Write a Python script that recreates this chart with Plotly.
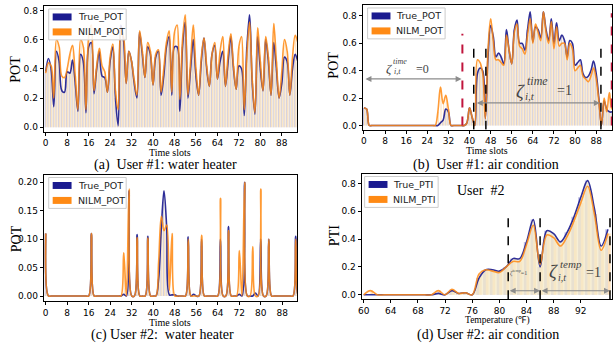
import plotly.graph_objects as go

W, H = 613, 346
def px(x): return x / W
def py(y): return 1 - y / H

# ---------------- data ----------------
slots = list(range(96))
temps = list(range(60, 97))

a_true = [0.38, 0.47, 0.40, 0.14, 0.52, 0.45, 0.25, 0.24,
          0.38, 0.37, 0.46, 0.30, 0.11, 0.50, 0.45, 0.10,
          0.55, 0.58, 0.23, 0.40, 0.52, 0.35, 0.34, 0.24,
          0.45, 0.55, 0.20, 0.01, 0.70, 0.60, 0.30, 0.52,
          0.45, 0.30, 0.20, 0.65, 0.50, 0.34, 0.55, 0.50,
          0.29, 0.48, 0.52, 0.22, 0.35, 0.55, 0.62, 0.22,
          0.55, 0.55, 0.11, 0.55, 0.72, 0.20, 0.40, 0.60,
          0.35, 0.22, 0.45, 0.61, 0.40, 0.28, 0.50, 0.56,
          0.33, 0.45, 0.52, 0.28, 0.45, 0.62, 0.40, 0.26,
          0.42, 0.40, 0.08, 0.55, 0.77, 0.30, 0.09, 0.62,
          0.40, 0.25, 0.60, 0.45, 0.22, 0.58, 0.40, 0.20,
          0.30, 0.48, 0.45, 0.22, 0.40, 0.50, 0.45, 0.40]
a_nilm = [0.37, 0.44, 0.42, 0.20, 0.60, 0.55, 0.35, 0.34,
          0.40, 0.50, 0.56, 0.35, 0.12, 0.60, 0.55, 0.12,
          0.62, 0.70, 0.25, 0.42, 0.54, 0.42, 0.38, 0.24,
          0.48, 0.57, 0.25, 0.12, 0.66, 0.62, 0.30, 0.52,
          0.45, 0.32, 0.22, 0.66, 0.52, 0.34, 0.58, 0.52,
          0.29, 0.50, 0.53, 0.24, 0.40, 0.58, 0.66, 0.24,
          0.65, 0.70, 0.19, 0.60, 0.77, 0.22, 0.45, 0.70,
          0.40, 0.22, 0.48, 0.61, 0.42, 0.28, 0.50, 0.58,
          0.33, 0.52, 0.62, 0.28, 0.50, 0.64, 0.42, 0.26,
          0.55, 0.62, 0.12, 0.50, 0.72, 0.32, 0.10, 0.68,
          0.45, 0.25, 0.62, 0.48, 0.22, 0.71, 0.45, 0.20,
          0.38, 0.60, 0.52, 0.22, 0.48, 0.63, 0.58, 0.50]

b_true = [0.13, 0.12, 0.0, 0.0, 0.0, 0.0, 0.0, 0.0,
          0.0, 0.0, 0.0, 0.0, 0.0, 0.0, 0.0, 0.0,
          0.0, 0.0, 0.0, 0.0, 0.0, 0.0, 0.0, 0.0,
          0.0, 0.0, 0.0, 0.0, 0.0, 0.02, 0.04, 0.12,
          0.10, 0.0, 0.0, 0.0, 0.0, 0.0, 0.0, 0.02,
          0.13, 0.06, 0.0, 0.38, 0.42, 0.40, 0.05, 0.50,
          0.73, 0.65, 0.50, 0.53, 0.50, 0.45, 0.70, 0.55,
          0.45, 0.70, 0.77, 0.60, 0.60, 0.55, 0.70, 0.83,
          0.61, 0.72, 0.70, 0.64, 0.83, 0.70, 0.62, 0.78,
          0.60, 0.75, 0.62, 0.66, 0.62, 0.50, 0.62, 0.60,
          0.44, 0.46, 0.48, 0.38, 0.35, 0.36, 0.40, 0.47,
          0.38, 0.20, 0.0, 0.18, 0.12, 0.10, 0.10, 0.12]
b_nilm = [0.13, 0.12, 0.0, 0.0, 0.0, 0.0, 0.0, 0.0,
          0.0, 0.0, 0.0, 0.0, 0.0, 0.0, 0.0, 0.0,
          0.0, 0.0, 0.0, 0.0, 0.0, 0.0, 0.0, 0.0,
          0.0, 0.0, 0.0, 0.0, 0.10, 0.28, 0.16, 0.22,
          0.12, 0.0, 0.0, 0.0, 0.0, 0.0, 0.0, 0.02,
          0.13, 0.06, 0.0, 0.48, 0.46, 0.38, 0.05, 0.55,
          0.78, 0.62, 0.48, 0.48, 0.46, 0.44, 0.66, 0.55,
          0.45, 0.68, 0.74, 0.58, 0.56, 0.52, 0.66, 0.78,
          0.60, 0.74, 0.68, 0.62, 0.83, 0.68, 0.60, 0.76,
          0.56, 0.72, 0.58, 0.60, 0.60, 0.48, 0.60, 0.56,
          0.40, 0.42, 0.44, 0.36, 0.34, 0.32, 0.36, 0.42,
          0.34, 0.18, 0.0, 0.20, 0.10, 0.24, 0.12, 0.12]

c_true = [0.11, 0.0, 0.0, 0.0, 0.0, 0.0, 0.0, 0.0,
          0.0, 0.0, 0.0, 0.0, 0.0, 0.0, 0.0, 0.0,
          0.0, 0.11, 0.0, 0.0, 0.0, 0.0, 0.0, 0.0,
          0.0, 0.0, 0.0, 0.0, 0.0, 0.003, 0.0, 0.185,
          0.0, 0.0, 0.108, 0.0, 0.0, 0.0, 0.105, 0.0,
          0.0, 0.0, 0.03, 0.12, 0.185, 0.12, 0.002, 0.002,
          0.002, 0.0, 0.0, 0.0, 0.0, 0.104, 0.0, 0.003,
          0.0, 0.0, 0.10, 0.0, 0.0, 0.0, 0.0, 0.0,
          0.0, 0.10, 0.0, 0.0, 0.122, 0.0, 0.0, 0.0,
          0.003, 0.0, 0.20, 0.0, 0.0, 0.0, 0.005, 0.0,
          0.10, 0.0, 0.0, 0.10, 0.0, 0.0, 0.0, 0.0,
          0.0, 0.0, 0.0, 0.0, 0.0, 0.105, 0.0, 0.0]
c_nilm = [0.11, 0.0, 0.0, 0.0, 0.0, 0.0, 0.0, 0.0,
          0.0, 0.0, 0.0, 0.0, 0.0, 0.0, 0.0, 0.0,
          0.0, 0.11, 0.0, 0.0, 0.0, 0.0, 0.0, 0.0,
          0.0, 0.0, 0.0, 0.0, 0.0, 0.076, 0.0, 0.188,
          0.0, 0.0, 0.103, 0.0, 0.0, 0.0, 0.102, 0.0,
          0.0, 0.0, 0.06, 0.14, 0.115, 0.125, 0.01, 0.11,
          0.0, 0.0, 0.0, 0.0, 0.0, 0.10, 0.0, 0.0,
          0.0, 0.0, 0.107, 0.0, 0.0, 0.0, 0.0, 0.0,
          0.0, 0.172, 0.0, 0.0, 0.115, 0.0, 0.0, 0.0,
          0.08, 0.0, 0.20, 0.0, 0.0, 0.087, 0.0, 0.0,
          0.188, 0.0, 0.0, 0.10, 0.0, 0.0, 0.0, 0.0,
          0.0, 0.0, 0.0, 0.0, 0.0, 0.10, 0.0, 0.0]

d_true = [0.0, 0.0, 0.0, 0.0, 0.0, 0.0, 0.0, 0.0, 0.0, 0.0,
          0.0, 0.01, 0.0, 0.03, 0.01, 0.015, 0.0, 0.12, 0.18, 0.18,
          0.17, 0.20, 0.26, 0.26, 0.38, 0.54, 0.20, 0.46, 0.44, 0.38,
          0.45, 0.56, 0.70, 0.82, 0.62, 0.35, 0.47]
d_nilm = [0.0, 0.03, 0.0, 0.0, 0.0, 0.0, 0.0, 0.0, 0.0, 0.0,
          0.0, 0.03, 0.0, 0.04, 0.01, 0.015, 0.0, 0.15, 0.18, 0.17,
          0.16, 0.20, 0.24, 0.24, 0.36, 0.50, 0.22, 0.43, 0.41, 0.35,
          0.42, 0.53, 0.66, 0.78, 0.58, 0.32, 0.44]

time_ticks = list(range(0, 89, 8))
temp_ticks = list(range(60, 93, 4))
pot_ticks = [0.0, 0.2, 0.4, 0.6, 0.8]
pot_ticks_c = [0.0, 0.05, 0.10, 0.15, 0.20]

# regime boundaries (annotation guides)
b_red_bounds = [37.3, 93.9]
b_red_tops = [0.67, 0.82]
b_black_bounds = [41.6, 46.2, 89.8]
d_black_bounds = [81.3, 86.0, 96.3]

# ---------------- style ----------------
BLUE = '#1a1a8f'
ORANGE = '#ff8a14'
LAV = 'rgba(110,110,195,0.42)'
WHEAT = 'rgba(252,180,90,0.42)'
CREAM_LIGHT = 'rgba(246,236,205,0.35)'
CREAM = 'rgba(244,234,200,0.75)'
SERIF = 'Liberation Serif'
SANS = 'DejaVu Sans'
GRAY = '#8c8c8c'

panels = [
    dict(n='', x=slots, t=a_true, p=a_nilm, lab=('True_POT', 'NILM_POT'),
         xr=[-0.74, 93.7], yr=[-0.03, 0.83], xd=(40, 295), yd=(6, 132),
         xt=time_ticks, yt=pot_ticks, yf='.1f', leg=(45, 9, 78), fill=CREAM_LIGHT),
    dict(n='2', x=slots, t=b_true, p=b_nilm, lab=('True_POT', 'NILM_POT'),
         xr=[-0.5, 94.0], yr=[-0.03, 0.88], xd=(361, 612), yd=(5, 130),
         xt=time_ticks, yt=pot_ticks, yf='.1f', leg=(366, 8, 78), fill=CREAM_LIGHT),
    dict(n='3', x=slots, t=c_true, p=c_nilm, lab=('True_POT', 'NILM_POT'),
         xr=[-0.74, 93.5], yr=[-0.009, 0.212], xd=(40, 295), yd=(176, 302),
         xt=time_ticks, yt=pot_ticks_c, yf='.2f', leg=(45, 178, 78), fill=CREAM_LIGHT),
    dict(n='4', x=temps, t=d_true, p=d_nilm, lab=('True_PTI', 'NILM_PTI'),
         xr=[59.7, 96.6], yr=[-0.031, 0.864], xd=(360, 612), yd=(175, 300),
         xt=temp_ticks, yt=pot_ticks, yf='.1f', leg=(363, 177, 74), fill=CREAM),
]

fig = go.Figure()
layout = {}
shapes = []
ann = []

def txt(x, y, s, size, family=SERIF, color='black', xanchor='center', angle=0):
    ann.append(dict(xref='paper', yref='paper', x=px(x), y=py(y), text=s, showarrow=False,
                    xanchor=xanchor, yanchor='middle', textangle=angle, borderpad=0,
                    font=dict(family=family, size=size, color=color)))

for P in panels:
    xa, ya = 'x' + P['n'], 'y' + P['n']
    common = dict(xaxis=xa, yaxis=ya, hoverinfo='skip')
    fig.add_trace(go.Scatter(x=P['x'], y=P['t'], mode='lines',
                             line=dict(width=0, shape='spline'), fill='tozeroy',
                             fillcolor=P['fill'], showlegend=False, **common))
    fig.add_trace(go.Bar(x=P['x'], y=P['t'], marker=dict(color=LAV, line_width=0),
                         offsetgroup='t', name=P['lab'][0], showlegend=False, **common))
    fig.add_trace(go.Bar(x=P['x'], y=P['p'], marker=dict(color=WHEAT, line_width=0),
                         offsetgroup='n', name=P['lab'][1], showlegend=False, **common))
    fig.add_trace(go.Scatter(x=P['x'], y=P['t'], mode='lines', opacity=0.9,
                             name=P['lab'][0],
                             line=dict(color=BLUE, width=1.6, shape='spline'),
                             showlegend=False, **common))
    fig.add_trace(go.Scatter(x=P['x'], y=P['p'], mode='lines', opacity=0.85,
                             name=P['lab'][1],
                             line=dict(color=ORANGE, width=1.6, shape='spline'),
                             showlegend=False, **common))

    axis_common = dict(showline=True, mirror=True, linecolor='black', linewidth=1,
                       ticks='outside', ticklen=3, tickwidth=1, tickcolor='black',
                       showgrid=False, zeroline=False,
                       tickfont=dict(family=SANS, size=9, color='black'))
    layout['xaxis' + P['n']] = dict(domain=[px(P['xd'][0]), px(P['xd'][1])],
                                    range=P['xr'], anchor=ya, tickvals=P['xt'],
                                    **axis_common)
    layout['yaxis' + P['n']] = dict(domain=[py(P['yd'][1]), py(P['yd'][0])],
                                    range=P['yr'], anchor=xa, tickvals=P['yt'],
                                    tickformat=P['yf'], **axis_common)

    # legend box (drawn as matplotlib-style legend)
    lx, ly, lw = P['leg']
    shapes.append(dict(type='rect', xref='paper', yref='paper',
                       x0=px(lx), x1=px(lx + lw), y0=py(ly + 31), y1=py(ly),
                       fillcolor='rgba(255,255,255,0.85)',
                       line=dict(color='#cccccc', width=1), layer='above'))
    for k, (col, lab) in enumerate(zip((BLUE, ORANGE), P['lab'])):
        cy = ly + 8 + 15 * k
        shapes.append(dict(type='rect', xref='paper', yref='paper',
                           x0=px(lx + 4), x1=px(lx + 23), y0=py(cy + 3.5), y1=py(cy - 3.5),
                           fillcolor=col, line=dict(width=0), layer='above'))
        txt(lx + 28, cy, lab, 9.5, family=SANS, color='#222', xanchor='left')

for xv, top in zip(b_red_bounds, b_red_tops):
    shapes.append(dict(type='line', xref='x2', yref='y2', x0=xv, x1=xv, y0=0.0, y1=top,
                       line=dict(color='#c0143c', width=2, dash='dash')))
for xv in b_black_bounds:
    shapes.append(dict(type='line', xref='x2', yref='y2', x0=xv, x1=xv, y0=-0.03, y1=0.57,
                       line=dict(color='black', width=1.5, dash='dash')))
for xv in d_black_bounds:
    shapes.append(dict(type='line', xref='x4', yref='y4', x0=xv, x1=xv, y0=-0.031, y1=0.55,
                       line=dict(color='black', width=1.5, dash='dash')))

def arrow(xref, yref, x0, x1, yv):
    ann.append(dict(xref=xref, yref=yref, axref=xref, ayref=yref, x=x1, y=yv, ax=x0, ay=yv,
                    showarrow=True, arrowhead=2, startarrowhead=2, arrowside='end+start',
                    arrowsize=1, arrowwidth=1.2, arrowcolor=GRAY, text=''))

arrow('x2', 'y2', 0.0, 37.0, 0.34)
arrow('x2', 'y2', 42.2, 89.4, 0.165)
arrow('x4', 'y4', 81.3, 86.0, 0.029)
arrow('x4', 'y4', 86.0, 96.3, 0.029)

# zeta labels panel (b)
txt(388, 69, '<i>ζ</i>', 13, color='#444')
txt(399, 62, '<i>time</i>', 8, color='#444')
txt(396, 72, '<i>i,t</i>', 8, color='#444')
txt(421, 69, '=0', 12, color='#444')
txt(520, 92, '<i>ζ</i>', 19, color='#444')
txt(537, 81, '<i>time</i>', 12, color='#444')
txt(529, 96, '<i>i,t</i>', 11, color='#444')
txt(564, 91, '=1', 14, color='#444')
# panel (d)
txt(480, 191, 'User  #2', 14)
txt(518, 273, '<i>ζ</i><sup>temp</sup>=1', 6, color='#555')
txt(553, 272, '<i>ζ</i>', 19, color='#444')
txt(571, 265, '<i>temp</i>', 11, color='#444')
txt(562, 278, '<i>i,t</i>', 10, color='#444')
txt(593, 273, '=1', 14, color='#444')

# axis titles
txt(167.5, 152.5, 'Time slots', 10)
txt(486, 150.5, 'Time slots', 10)
txt(167.5, 323.6, 'Time slots', 10)
txt(497, 321, 'Temperature (℉)', 9.5)
for (x, y, s) in [(12, 69, 'POT'), (332, 65, 'POT'), (12, 239, 'POT'), (332, 236, 'PTI')]:
    txt(x, y, s, 14, angle=-90)
# captions
txt(163, 165.5, '(a)  User #1: water heater', 14)
txt(485, 165.5, '(b)  User #1: air condition', 14)
txt(160, 336, '(c) User #2:  water heater', 14)
txt(487, 336, '(d) User #2: air condition', 14)

fig.update_layout(width=W, height=H, margin=dict(l=0, r=0, t=0, b=0),
                  paper_bgcolor='white', plot_bgcolor='white', showlegend=False,
                  barmode='group', bargap=0.2, bargroupgap=0.0,
                  shapes=shapes, annotations=ann, **layout)

fig.write_html('out.html', config={'displayModeBar': False},
               post_script="document.body.style.margin='0';")
